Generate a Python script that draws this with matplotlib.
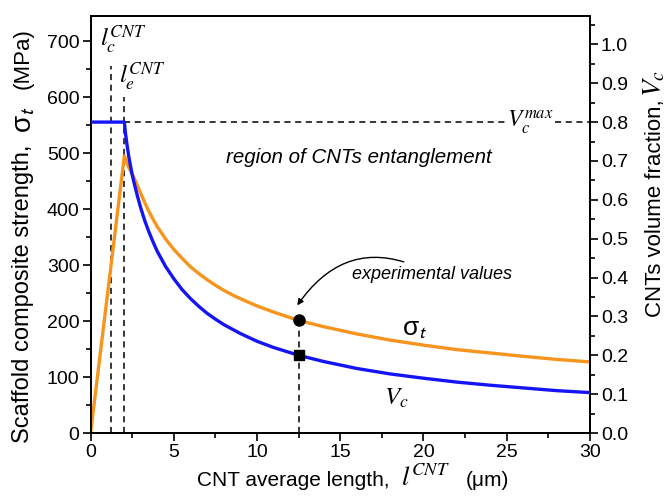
import numpy as np
import matplotlib
matplotlib.use("Agg")
import matplotlib.pyplot as plt
from matplotlib.ticker import MultipleLocator

plt.rcParams['font.family'] = ['Liberation Sans', 'DejaVu Sans']
plt.rcParams['mathtext.fontset'] = 'stixsans'

# composite strength sigma_t (MPa) vs CNT length (um)
len_sigma = [0, 2.03, 2.1, 2.2, 2.3, 2.4, 2.5, 2.6, 2.8, 3.0, 3.25, 3.5, 3.75,
             4, 4.5, 5, 5.5, 6, 6.5, 7, 7.5, 8, 8.5, 9, 10, 11,
             12.5, 14, 16, 18, 20, 22, 24, 26, 28, 30]
sigma_t = [0, 495, 489, 481, 474, 468, 462, 457, 443, 429, 412, 396, 382,
           369, 347, 328, 312, 297, 285, 274, 264, 255, 247, 240, 227, 216,
           201, 190, 177, 166, 157, 149, 143, 137, 131.5, 127]

# CNT volume fraction V_c vs CNT length (um)
len_vc = [0, 2.03, 2.1, 2.2, 2.3, 2.4, 2.5, 2.6, 2.8, 3.0, 3.25, 3.5, 3.75,
          4, 4.5, 5, 5.5, 6, 6.5, 7, 7.5, 8, 9, 10, 11,
          12.5, 14, 16, 18, 20, 22, 24, 26, 28, 30]
vol_frac = [0.8, 0.8, 0.770, 0.738, 0.710, 0.687, 0.665, 0.646, 0.612, 0.581,
            0.547, 0.518, 0.492, 0.468, 0.429, 0.397, 0.369, 0.346, 0.326,
            0.308, 0.293, 0.279, 0.256, 0.236, 0.220, 0.200, 0.184, 0.166,
            0.152, 0.141, 0.131, 0.123, 0.116, 0.109, 0.104]

lc = 1.2        # critical length
le = 2.03       # entanglement length
vc_max = 0.8
exp_len = 12.5
exp_sigma = 201
exp_vc = 0.2

orange = '#F7941D'
blue = '#1414F5'

W, H = 671, 500
fig = plt.figure(figsize=(W / 100, H / 100), dpi=100)
ax = fig.add_axes([0.135, 0.134, 0.744, 0.834])
ax2 = ax.twinx()

ax.plot(len_sigma, sigma_t, color=orange, lw=2.4, zorder=3,
        solid_joinstyle='round')
ax2.plot(len_vc, vol_frac, color=blue, lw=2.4, zorder=3,
         solid_joinstyle='round')

dash = dict(color='black', lw=1.1, ls=(0, (4, 3)))
ax.plot([lc, lc], [0, 655], **dash)
ax.plot([le, le], [0, 600], **dash)
ax.plot([exp_len, exp_len], [0, exp_sigma], **dash)
ax2.plot([le, 24.9], [vc_max, vc_max], **dash)
ax2.plot([27.9, 30], [vc_max, vc_max], **dash)

ax.plot(exp_len, exp_sigma, 'o', color='black', ms=8, zorder=5)
ax2.plot(exp_len, exp_vc, 's', color='black', ms=7, zorder=5)

ax.set_xlim(0, 30)
ax.set_ylim(0, 745)
ax.xaxis.set_major_locator(MultipleLocator(5))
ax.xaxis.set_minor_locator(MultipleLocator(2.5))
ax.yaxis.set_major_locator(MultipleLocator(100))
ax.yaxis.set_minor_locator(MultipleLocator(50))
ax2.set_yticks([i / 10 for i in range(11)])
ax2.set_yticklabels([f'{i / 10:.1f}' for i in range(11)])
ax2.yaxis.set_minor_locator(MultipleLocator(0.05))
ax2.set_ylim(0, 1.073)

for a in (ax, ax2):
    a.tick_params(which='major', direction='out', length=6, width=1.2,
                  labelsize=14, pad=2)
    a.tick_params(which='minor', direction='out', length=3.5, width=1.2)
    for s in a.spines.values():
        s.set_linewidth(1.3)

# axis titles, built from pieces so the symbols can be larger
fig.text(197 / W, 14 / H, 'CNT average length,', fontsize=15,
         va='baseline')
fig.text(401 / W, 14 / H, '$l^{CNT}$', fontsize=19, va='baseline',
         math_fontfamily='stix')
fig.text(466 / W, 14 / H, '(\u03bcm)', fontsize=15, va='baseline')

fig.text(23 / W, 1 - 443 / H, 'Scaffold composite strength,', fontsize=17,
         rotation=90, ha='center', va='bottom')
fig.text(24 / W, 1 - 133 / H, '\u03c3$_t$', fontsize=20,
         rotation=90, ha='center', va='bottom')
fig.text(23 / W, 1 - 89 / H, '(MPa)', fontsize=16,
         rotation=90, ha='center', va='bottom')

fig.text(655 / W, 1 - 317 / H, 'CNTs volume fraction,', fontsize=16,
         rotation=90, ha='center', va='bottom')
fig.text(654 / W, 1 - 97 / H, '$V_c$', fontsize=20, rotation=90,
         ha='center', va='bottom', math_fontfamily='stix')

ax.text(0.55, 690, '$l_c^{CNT}$', fontsize=18, math_fontfamily='stix')
ax.text(1.7, 625, '$l_e^{CNT}$', fontsize=18, math_fontfamily='stix')
ax2.text(26.4, vc_max, '$V_c^{max}$', fontsize=17, math_fontfamily='stix',
         ha='center', va='center')
ax.text(16.1, 493, 'region of CNTs entanglement', fontsize=14.8,
        style='italic', ha='center', va='center')
ax.text(19.5, 185, '\u03c3$_t$', fontsize=19, ha='center', va='center')
ax2.text(18.4, 0.09, '$V_c$', fontsize=18, math_fontfamily='stix',
         ha='center', va='center')

ax.annotate('experimental values', xy=(12.42, 228), xytext=(15.7, 284),
            fontsize=13, style='italic', va='center', ha='left',
            arrowprops=dict(arrowstyle='-|>', color='black', lw=1,
                            mutation_scale=9, shrinkA=2, shrinkB=0,
                            connectionstyle='arc3,rad=0.45'))

fig.savefig('out.png', dpi=100)
